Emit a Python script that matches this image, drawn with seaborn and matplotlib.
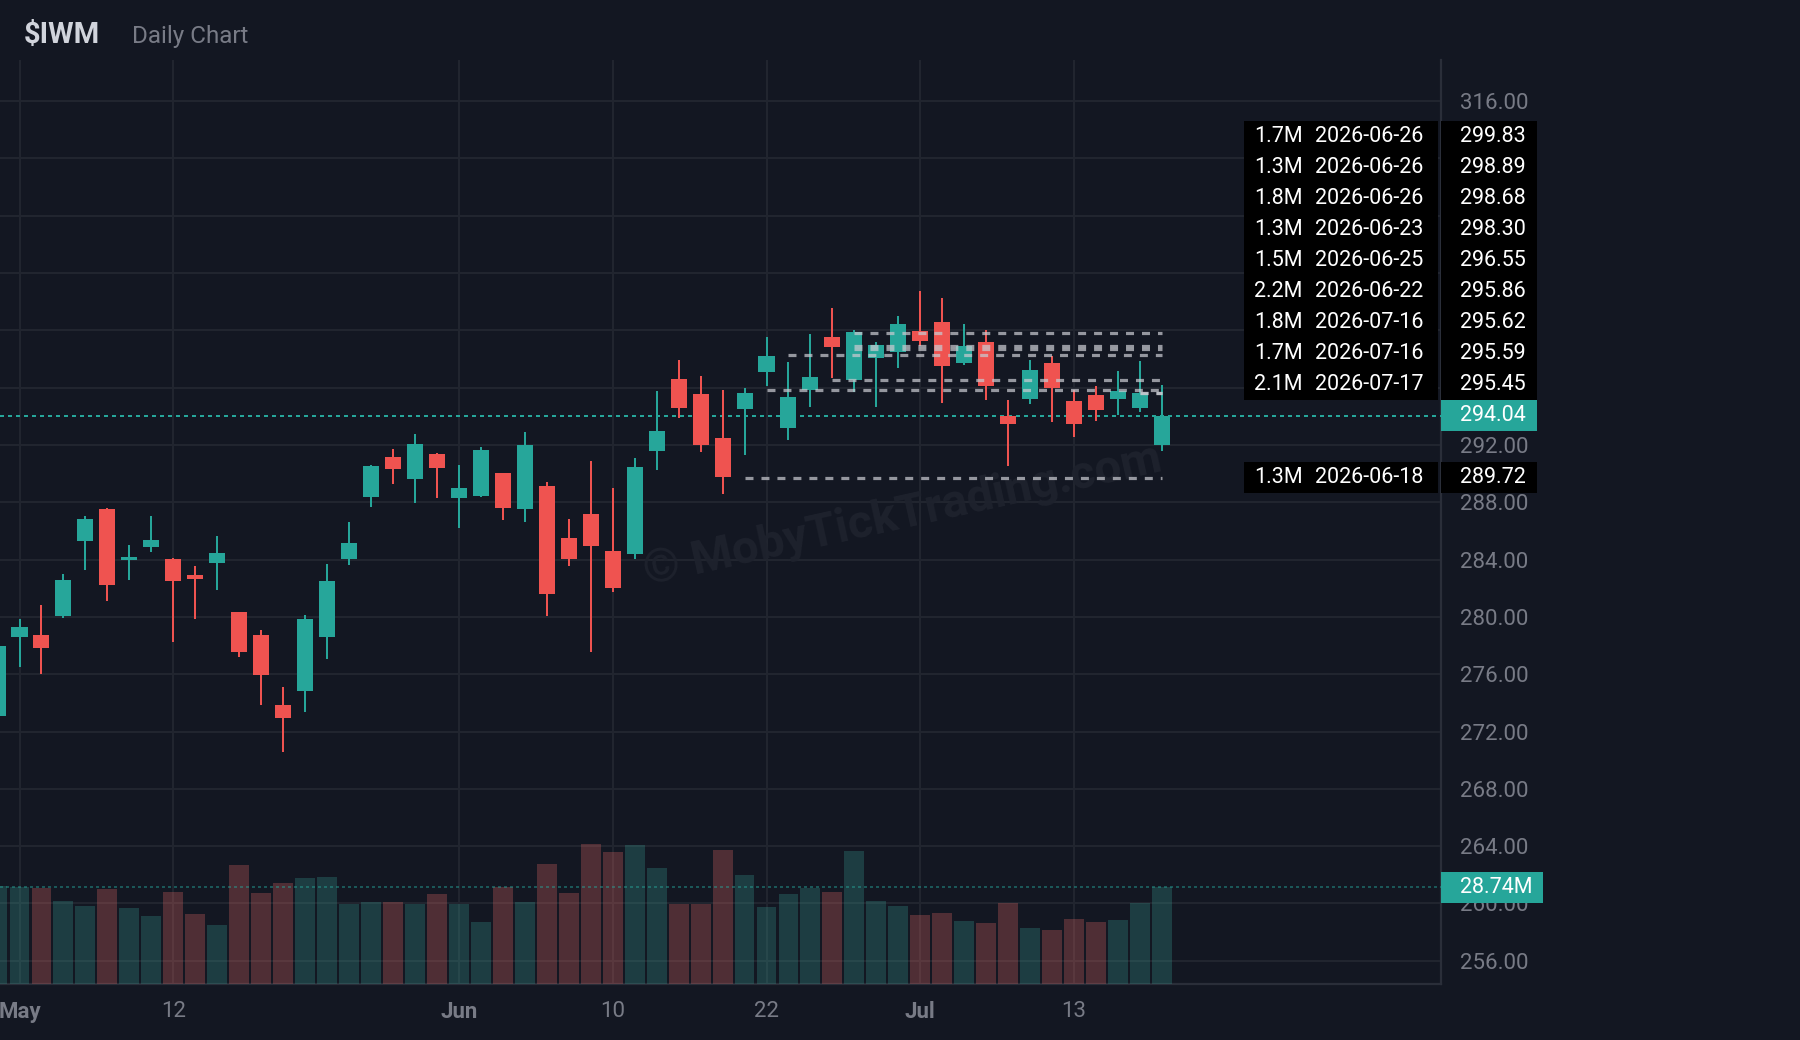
import matplotlib
matplotlib.use("Agg")
import matplotlib.pyplot as plt
from matplotlib.patches import Rectangle
import numpy as np
import pandas as pd
import seaborn as sns

# ---------------- data ----------------
TICKER = "$IWM"
SUBTITLE = "Daily Chart"
WATERMARK = "© MobyTickTrading.com"

holidays = ["2026-05-25", "2026-06-19", "2026-07-03"]
dates = [d.strftime("%Y-%m-%d") for d in
         pd.bdate_range("2026-04-30", "2026-07-17", freq="C", holidays=holidays)]

opens = [273.11, 278.60, 278.74, 280.07, 285.30, 287.53, 284.00, 284.88, 284.04, 282.93,
         283.76, 280.34, 278.74, 273.86, 274.83, 278.60, 284.04, 288.37, 291.16, 289.62,
         291.37, 288.30, 288.44, 290.04, 287.53, 289.13, 285.51, 287.18, 284.60, 284.39,
         291.54, 296.57, 295.52, 292.45, 294.48, 297.06, 293.15, 295.80, 299.51, 296.50,
         298.04, 298.46, 299.93, 300.56, 297.69, 299.16, 293.99, 295.17, 297.69, 295.03,
         295.45, 295.17, 294.55, 291.96]
highs = [278.20, 279.86, 280.83, 283.00, 287.04, 287.60, 285.02, 287.04, 284.11, 283.55,
         285.65, 280.34, 279.09, 275.11, 280.14, 283.69, 286.62, 290.60, 291.72, 292.76,
         291.44, 290.60, 291.86, 290.04, 292.90, 289.41, 286.83, 290.88, 289.00, 291.09,
         295.75, 297.90, 296.78, 295.80, 295.94, 299.51, 297.76, 299.72, 301.54, 300.00,
         299.16, 300.98, 302.73, 302.24, 300.42, 300.00, 295.10, 297.90, 298.18, 295.80,
         296.08, 297.13, 297.83, 296.15]
lows = [272.80, 276.51, 276.02, 279.93, 283.27, 281.11, 282.58, 284.53, 278.25, 279.86,
        281.88, 277.21, 273.86, 270.58, 273.37, 277.07, 283.62, 287.67, 289.27, 287.95,
        288.30, 286.20, 288.37, 286.76, 286.62, 280.06, 283.55, 277.55, 281.74, 284.04,
        290.25, 293.87, 291.47, 288.60, 291.33, 296.08, 292.31, 294.62, 296.64, 295.66,
        294.62, 297.34, 298.88, 294.90, 297.55, 295.10, 290.56, 294.83, 293.57, 292.52,
        293.64, 294.06, 294.27, 291.54]
closes = [277.97, 279.30, 277.83, 282.58, 286.83, 282.23, 284.18, 285.37, 282.51, 282.65,
          284.46, 277.55, 275.95, 272.95, 279.86, 282.51, 285.16, 290.53, 290.32, 292.06,
          290.39, 289.00, 291.65, 287.60, 292.00, 281.60, 284.04, 284.95, 282.02, 290.46,
          292.95, 294.57, 291.96, 289.79, 295.59, 298.18, 295.31, 296.71, 298.81, 299.86,
          298.95, 300.42, 299.23, 297.48, 298.88, 296.08, 293.43, 297.20, 295.94, 293.43,
          294.41, 295.73, 295.59, 294.04]
volumes_m = [29.3, 29.0, 28.7, 24.8, 23.3, 28.4, 22.7, 20.3, 27.5, 20.9,
             17.5, 35.4, 27.2, 30.2, 31.4, 31.8, 23.9, 24.5, 24.5, 23.9,
             26.9, 23.9, 18.4, 29.0, 24.5, 35.7, 27.2, 41.7, 39.3, 41.4,
             34.5, 23.9, 23.9, 39.9, 32.4, 23.0, 26.9, 28.7, 27.5, 39.6,
             24.8, 23.3, 20.6, 21.2, 18.7, 18.1, 24.2, 16.6, 16.0, 19.4,
             18.4, 19.1, 24.2, 28.74]

level_sizes = ["1.7M", "1.3M", "1.8M", "1.3M", "1.5M", "2.2M", "1.8M", "1.7M", "2.1M", "1.3M"]
level_dates = ["2026-06-26", "2026-06-26", "2026-06-26", "2026-06-23", "2026-06-25",
               "2026-06-22", "2026-07-16", "2026-07-16", "2026-07-17", "2026-06-18"]
level_prices = [299.83, 298.89, 298.68, 298.30, 296.55, 295.86, 295.62, 295.59, 295.45, 289.72]

last_price = 294.04
last_volume_label = "28.74M"
last_volume = 28.74

tick_dates = ["2026-05-01", "2026-05-12", "2026-06-01", "2026-06-10",
              "2026-06-22", "2026-07-01", "2026-07-13"]
tick_labels = ["May", "12", "Jun", "10", "22", "Jul", "13"]
month_labels = ["May", "Jun", "Jul"]
y_ticks = list(range(256, 317, 4))

# ---------------- style ----------------
BG = "#131722"
GRID = "#21252f"
AXIS = "#2a2e39"
TEAL = "#26a69a"
RED = "#ef5350"
TXT = "#787b86"
TITLE = "#d1d4dc"

sns.set_theme(style="dark", rc={"axes.facecolor": BG, "figure.facecolor": BG,
                                "savefig.facecolor": BG})
plt.rcParams["font.family"] = ["Roboto", "DejaVu Sans"]

W, H = 1800, 1040
fig = plt.figure(figsize=(W / 100, H / 100), dpi=100)
AX_L, AX_R, AX_T, AX_B = 0, 1441, 60, 984
ax = fig.add_axes([AX_L / W, 1 - AX_B / H, (AX_R - AX_L) / W, (AX_B - AX_T) / H])
ax.set_facecolor(BG)

n = len(dates)
xs = np.arange(n)
o = np.array(opens); c = np.array(closes)
hi = np.array(highs); lo = np.array(lows)
up = c >= o
cols = np.where(up, TEAL, RED)

YLIM = (254.38, 318.86)
XLIM = (0.112, 65.70)

# candles
ax.vlines(xs, lo, hi, colors=cols, lw=1.44, zorder=3)
ax.bar(xs, np.abs(c - o), bottom=np.minimum(o, c), width=0.73, color=cols,
       linewidth=0, zorder=4)

# current price line
ax.axhline(last_price, color=TEAL, lw=1.44, ls=(0, (2, 2)), zorder=2.8)

# level lines
for p, d in zip(level_prices, level_dates):
    i0 = dates.index(d)
    if i0 < n - 1:
        ax.plot([i0, n - 1], [p, p], color="#c8cad0", alpha=0.72, lw=2.3,
                ls=(0, (2.5, 2.5)), zorder=5, dash_capstyle="butt")

# watermark
ax.text(903 / W, 1 - 515 / H, WATERMARK, transform=fig.transFigure, rotation=12.5,
        ha="center", va="center", fontsize=34, fontweight="bold", color="#1e222d",
        zorder=1)

# volume
ax2 = ax.twinx()
vol_df = pd.DataFrame({"i": xs, "vol": volumes_m, "dir": np.where(up, "up", "down")})
sns.barplot(data=vol_df, x="i", y="vol", hue="dir", palette={"up": TEAL, "down": RED},
            native_scale=True, width=0.906, dodge=False, alpha=0.3, linewidth=0,
            errorbar=None, legend=False, ax=ax2)
ax2.axhline(last_volume, color=TEAL, alpha=0.45, lw=1.44, ls=(0, (1.5, 1.5)), zorder=6)
ax2.set_ylim(0, 275)
ax2.set_yticks([])
ax2.set_ylabel("")
ax2.set_xlabel("")
for s in ax2.spines.values():
    s.set_visible(False)

# ---------------- price-scale label layout ----------------
axw = AX_R - AX_L
def fx(px):
    return (px - AX_L) / axw

ppu = (AX_B - AX_T) / (YLIM[1] - YLIM[0])
LBL_PX = 31
h = LBL_PX / ppu
ytr = ax.get_yaxis_transform()

pos = {}
cur = last_price
for k in sorted([k for k, p in enumerate(level_prices) if p >= last_price],
                key=lambda k: level_prices[k]):
    cur = max(level_prices[k], cur + h)
    pos[k] = cur
cur = last_price
for k in sorted([k for k, p in enumerate(level_prices) if p < last_price],
                key=lambda k: -level_prices[k]):
    cur = min(level_prices[k], cur - h)
    pos[k] = cur

# axis formatting
ax.set_xlim(*XLIM)
ax.set_ylim(*YLIM)
ax.set_xticks([dates.index(d) for d in tick_dates])
ax.set_xticklabels(tick_labels)
for t in ax.get_xticklabels():
    if t.get_text() in month_labels:
        t.set_fontweight("bold")
ax.yaxis.tick_right()
ax.set_yticks(y_ticks)
# price-scale labels fully hidden behind the stacked label boxes are not drawn
covered = [(yv - h / 2, yv + h / 2) for yv in list(pos.values()) + [last_price]]
def ylab(v):
    for a, b in covered:
        if a <= v <= b:
            return ""
    return f"{v:.2f}"
ax.set_yticklabels([ylab(v) for v in y_ticks])
ax.tick_params(axis="y", length=0, pad=13.7, labelsize=16, labelcolor=TXT)
ax.tick_params(axis="x", length=0, pad=12, labelsize=16, labelcolor=TXT)
ax.grid(True, color=GRID, lw=1.44)
ax.set_axisbelow(True)
for k in ("left", "top"):
    ax.spines[k].set_visible(False)
for k in ("right", "bottom"):
    ax.spines[k].set_color(AXIS)
    ax.spines[k].set_linewidth(1.6)

for k, yv in pos.items():
    ax.add_patch(Rectangle((fx(1244), yv - h / 2), fx(1438) - fx(1244), h,
                           transform=ytr, facecolor="black", edgecolor="none",
                           clip_on=False, zorder=10))
    ax.add_patch(Rectangle((fx(1441), yv - h / 2), fx(1537) - fx(1441), h,
                           transform=ytr, facecolor="black", edgecolor="none",
                           clip_on=False, zorder=10))
    ax.text(fx(1254), yv, level_sizes[k], transform=ytr, ha="left", va="center",
            fontsize=15.5, color="white", zorder=11, clip_on=False)
    ax.text(fx(1315), yv, level_dates[k], transform=ytr, ha="left", va="center",
            fontsize=15.5, color="white", zorder=11, clip_on=False)
    ax.text(fx(1460), yv, f"{level_prices[k]:.2f}", transform=ytr, ha="left",
            va="center", fontsize=15.5, color="white", zorder=11, clip_on=False)

# current price label
ax.add_patch(Rectangle((fx(1441), last_price - h / 2), fx(1537) - fx(1441), h,
                       transform=ytr, facecolor=TEAL, edgecolor="none",
                       clip_on=False, zorder=10))
ax.text(fx(1460), last_price, f"{last_price:.2f}", transform=ytr, ha="left",
        va="center", fontsize=15.5, color="white", zorder=11, clip_on=False)

# volume label
ytr2 = ax2.get_yaxis_transform()
vh = LBL_PX * (275 / (AX_B - AX_T))
ax2.add_patch(Rectangle((fx(1441), last_volume - vh / 2), fx(1543) - fx(1441), vh,
                        transform=ytr2, facecolor=TEAL, edgecolor="none",
                        clip_on=False, zorder=10))
ax2.text(fx(1460), last_volume, last_volume_label, transform=ytr2, ha="left",
         va="center", fontsize=15.5, color="white", zorder=11, clip_on=False)

# titles
fig.text(24 / W, 1 - 43 / H, TICKER, fontsize=21, fontweight="bold", color=TITLE,
         va="baseline", ha="left")
fig.text(132 / W, 1 - 43 / H, SUBTITLE, fontsize=17.5, color=TXT,
         va="baseline", ha="left")

fig.savefig("out.png", dpi=100, facecolor=BG)
